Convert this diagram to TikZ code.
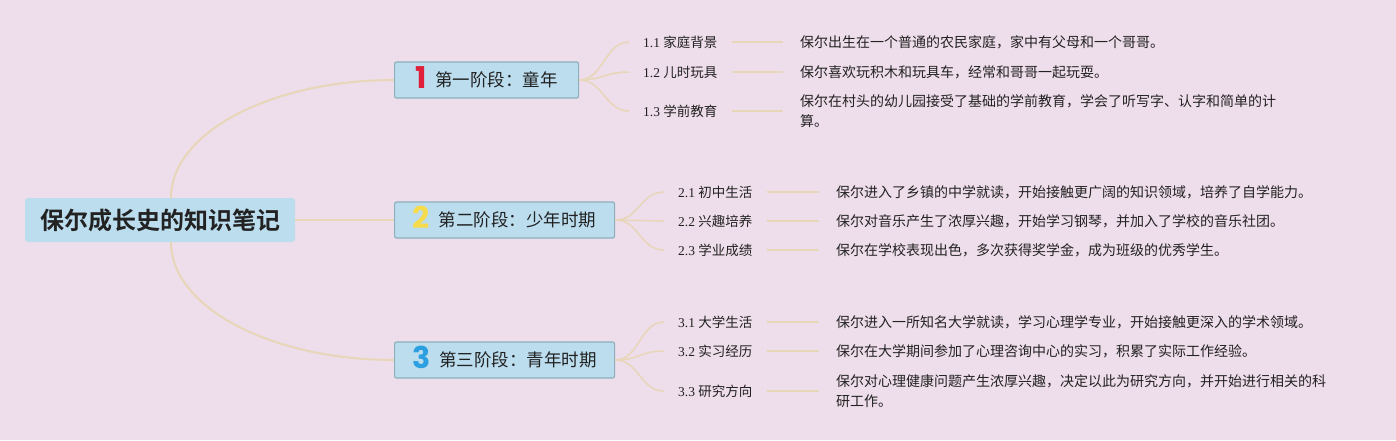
\documentclass[tikz,border=0pt]{standalone}
\usepackage{fontspec}
\setmainfont{Liberation Serif}
\newfontfamily\cjk{Noto Sans CJK SC}[BoldFont={Noto Sans CJK SC Bold}]
\newfontfamily\numfont{Poppins}[BoldFont={Poppins Bold}]
\definecolor{bg}{HTML}{EEDDEA}
\definecolor{boxblue}{HTML}{BBDDEE}
\definecolor{boxline}{HTML}{8DB0BC}
\definecolor{branchcol}{HTML}{E8D6B8}
\definecolor{numred}{HTML}{E0203A}
\definecolor{numyellow}{HTML}{F6DC4A}
\definecolor{numblue}{HTML}{2B9FDF}
\definecolor{ink}{HTML}{222222}
\newcommand\stagenum[2]{\raisebox{-2.5pt}{\smash{\numfont\bfseries\fontsize{30}{30}\selectfont\color{#1}#2}}\hspace{9pt}}
\begin{document}
\begin{tikzpicture}[x=1pt,y=-1pt,
    rootbox/.style={fill=boxblue,rounded corners=3pt,minimum width=270pt,minimum height=44pt,text=ink,font=\cjk\bfseries\fontsize{24}{28}\selectfont},
    stagebox/.style={fill=boxblue,draw=boxline,line width=1.2pt,rounded corners=2pt,minimum height=36pt,inner xsep=0pt,anchor=west,text=ink,font=\cjk\fontsize{17.5}{20}\selectfont},
    leafbox/.style={anchor=west,inner xsep=14pt,text=ink,font=\fontsize{13.5}{16}\selectfont},
    descbox/.style={anchor=west,inner xsep=0pt,align=left,text=ink,font=\cjk\fontsize{14}{20}\selectfont},
    branch/.style={draw=branchcol,line width=2pt},
    twig/.style={draw=branchcol,line width=1.5pt}]
      \fill[bg] (0,0) rectangle (1396,440);
      \node[rootbox] (root) at (160,220) {保尔成长史的知识笔记};
      \node[stagebox,minimum width=184pt] (s1) at (394,80) {\stagenum{numred}{1}第一阶段：童年};
      \node[stagebox,minimum width=220pt] (s2) at (394,220) {\stagenum{numyellow}{2}第二阶段：少年时期};
      \node[stagebox,minimum width=220pt] (s3) at (394,360) {\stagenum{numblue}{3}第三阶段：青年时期};
      \draw[branch] ([xshift=11pt]root.north) .. controls +(0,-65) and +(-123,0) .. (s1.west);
      \draw[branch] (root.east) -- (s2.west);
      \draw[branch] ([xshift=11pt]root.south) .. controls +(0,65) and +(-123,0) .. (s3.west);
      \node[leafbox] (l11) at (629,42) {1.1 {\cjk 家庭背景}};
      \node[leafbox] (l12) at (629,72) {1.2 {\cjk 儿时玩具}};
      \node[leafbox] (l13) at (629,111) {1.3 {\cjk 学前教育}};
      \node[leafbox] (l21) at (664,192) {2.1 {\cjk 初中生活}};
      \node[leafbox] (l22) at (664,221) {2.2 {\cjk 兴趣培养}};
      \node[leafbox] (l23) at (664,250) {2.3 {\cjk 学业成绩}};
      \node[leafbox] (l31) at (664,322) {3.1 {\cjk 大学生活}};
      \node[leafbox] (l32) at (664,351) {3.2 {\cjk 实习经历}};
      \node[leafbox] (l33) at (664,391) {3.3 {\cjk 研究方向}};
      \node[descbox] (d11) at (800,42) {保尔出生在一个普通的农民家庭，家中有父母和一个哥哥。};
      \node[descbox] (d12) at (800,72) {保尔喜欢玩积木和玩具车，经常和哥哥一起玩耍。};
      \node[descbox] (d13) at (800,111) {保尔在村头的幼儿园接受了基础的学前教育，学会了听写字、认字和简单的计\\算。};
      \node[descbox] (d21) at (836,192) {保尔进入了乡镇的中学就读，开始接触更广阔的知识领域，培养了自学能力。};
      \node[descbox] (d22) at (836,221) {保尔对音乐产生了浓厚兴趣，开始学习钢琴，并加入了学校的音乐社团。};
      \node[descbox] (d23) at (836,250) {保尔在学校表现出色，多次获得奖学金，成为班级的优秀学生。};
      \node[descbox] (d31) at (836,322) {保尔进入一所知名大学就读，学习心理学专业，开始接触更深入的学术领域。};
      \node[descbox] (d32) at (836,351) {保尔在大学期间参加了心理咨询中心的实习，积累了实际工作经验。};
      \node[descbox] (d33) at (836,391) {保尔对心理健康问题产生浓厚兴趣，决定以此为研究方向，并开始进行相关的科\\研工作。};
      \foreach \a/\b in {1/1,1/2,1/3,2/1,2/2,2/3,3/1,3/2,3/3}{
        \draw[twig] (s\a.east) .. controls +(24,0) and +(-24,0) .. (l\a\b.west);
        \draw[twig] (l\a\b.east) -- ([xshift=-17pt]d\a\b.west);
      }
    \end{tikzpicture}
\end{document}
